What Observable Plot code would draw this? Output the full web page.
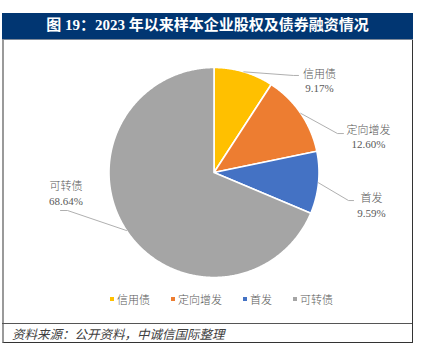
<!DOCTYPE html>
<html>
<head>
<meta charset="utf-8">
<script src="https://cdn.jsdelivr.net/npm/d3@7"></script>
<script src="https://cdn.jsdelivr.net/npm/@observablehq/plot@0.6"></script>
<style>
  body { margin: 0; background: #fff; }
  #frame { position: absolute; left: 2px; top: 13px; width: 411px; }
  #title { height: 27px; background: #013672; color: #fff; text-align: center; line-height: 27px;
    font: bold 15px "Liberation Serif", "Noto Sans CJK SC", serif; box-sizing: border-box; border-bottom: 1px solid #7f8a99; }
  #box { position: relative; height: 303px; box-sizing: border-box; border-left: 2px solid #9a9a9a;
    border-right: 1px solid #333; border-bottom: 1.5px solid #333; }
  #chart { position: absolute; left: 0; top: 0; }
  #legend { position: absolute; left: 106px; top: 251px; display: flex; align-items: center;
    font: 300 11px "Noto Sans CJK SC", sans-serif; color: #595959; }
  #legend .item { display: flex; align-items: center; margin-right: 21px; }
  #legend .sw { width: 4px; height: 4px; margin-right: 3px; }
  #source { position: absolute; left: -2px; right: 0; top: 283px; height: 19px; border-top: 1px solid #555;
    padding-left: 10px; line-height: 19px; font: italic 12.5px "Noto Sans CJK SC", sans-serif; color: #404040; }
</style>
</head>
<body>
<div id="frame">
  <div id="title"></div>
  <div id="box">
    <div id="chart"></div>
    <div id="legend"></div>
    <div id="source"></div>
  </div>
</div>
<script>
// ---- data ----
const titleText = "图 19：2023 年以来样本企业股权及债券融资情况";
const sourceText = "资料来源：公开资料，中诚信国际整理";
const names = ["信用债", "定向增发", "首发", "可转债"];
const shares = [9.17, 12.60, 9.59, 68.64];
const colors = ["#FFC000", "#ED7D31", "#4472C4", "#A5A5A5"];

// ---- layout (in units of pie radius, y up, relative to pie centre) ----
const W = 408, H = 245, cx = 209.5, cy = 132, R = 105;
const labelPos = [[1.005, 0.876], [1.471, 0.343], [1.5, -0.31], [-1.41, -0.195]];
const leaderElbow = [[0.757, 0.924], [1.176, 0.371], [1.281, -0.267], [-1.395, -0.362]];
const leaderEnd = [[0.805, 0.924], [1.233, 0.371], [1.329, -0.267], [-1.462, -0.362]];

document.getElementById("title").textContent = titleText;
document.getElementById("source").textContent = sourceText;

const arcs = d3.pie().sort(null).value(d => d)(shares);

const slicePts = [];
arcs.forEach((a, i) => {
  const name = names[i];
  slicePts.push({name, x: 0, y: 0});
  const n = Math.max(2, Math.ceil((a.endAngle - a.startAngle) / (Math.PI / 360)));
  for (let k = 0; k <= n; k++) {
    const t = a.startAngle + (a.endAngle - a.startAngle) * k / n;
    slicePts.push({name, x: Math.sin(t), y: Math.cos(t)});
  }
  slicePts.push({name, x: 0, y: 0});
});

const leaderPts = [];
arcs.forEach((a, i) => {
  const m = (a.startAngle + a.endAngle) / 2;
  leaderPts.push({name: names[i], x: Math.sin(m), y: Math.cos(m)});
  leaderPts.push({name: names[i], x: leaderElbow[i][0], y: leaderElbow[i][1]});
  leaderPts.push({name: names[i], x: leaderEnd[i][0], y: leaderEnd[i][1]});
});

const labels = names.map((n, i) => ({
  x: labelPos[i][0], y: labelPos[i][1],
  text: n + "\n" + shares[i].toFixed(2) + "%"
}));

const plot = Plot.plot({
  width: W, height: H, margin: 0,
  x: {domain: [-cx / R, (W - cx) / R], axis: null},
  y: {domain: [-(H - cy) / R, cy / R], axis: null},
  color: {domain: names, range: colors},
  style: {background: "transparent", overflow: "visible"},
  marks: [
    Plot.line(slicePts, {x: "x", y: "y", z: "name", fill: "name", stroke: "white",
      strokeWidth: 1.6, strokeLinejoin: "round", curve: "linear"}),
    Plot.line(leaderPts, {x: "x", y: "y", z: "name", stroke: "#a6a6a6", strokeWidth: 0.9}),
    Plot.text(labels, {x: "x", y: "y", text: "text", fill: "#595959", fontSize: 11, fontWeight: 300,
      lineHeight: 1.3, fontFamily: "'Liberation Serif', 'Noto Sans CJK SC', serif"})
  ]
});
document.getElementById("chart").appendChild(plot);

const legend = document.getElementById("legend");
names.forEach((n, i) => {
  const item = document.createElement("div");
  item.className = "item";
  const sw = document.createElement("span");
  sw.className = "sw";
  sw.style.background = colors[i];
  const t = document.createElement("span");
  t.textContent = n;
  item.appendChild(sw);
  item.appendChild(t);
  legend.appendChild(item);
});
</script>
</body>
</html>
